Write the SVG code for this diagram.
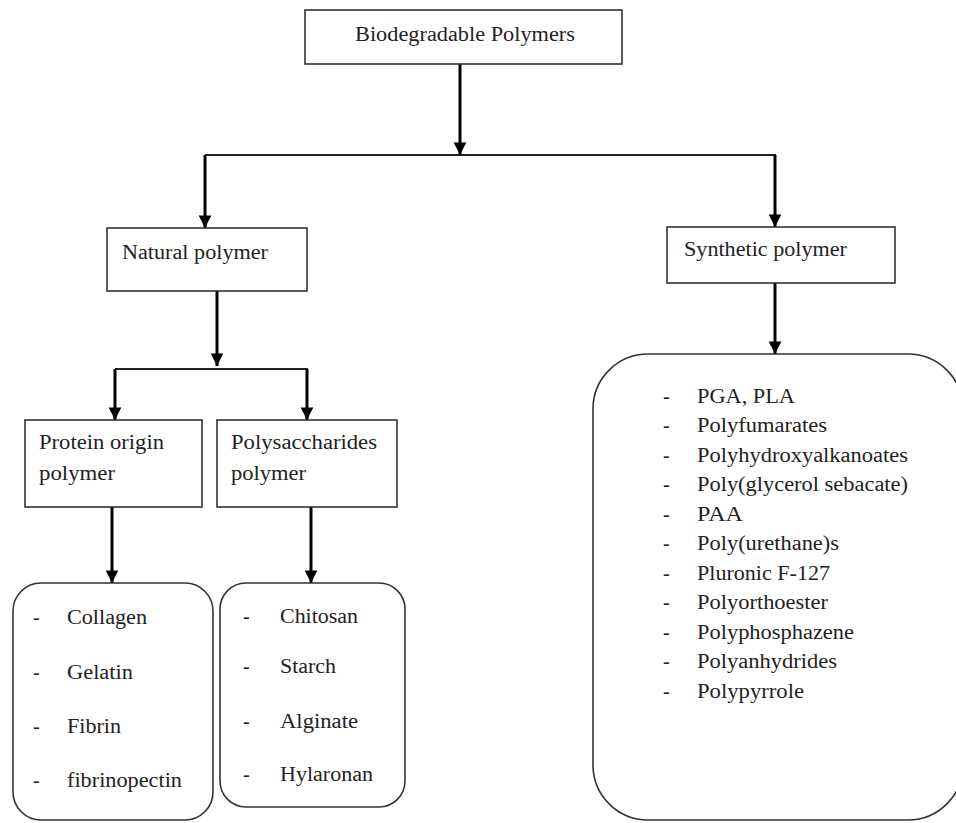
<svg xmlns="http://www.w3.org/2000/svg" width="956" height="823" viewBox="0 0 956 823">
<style>
.box{fill:#fff;stroke:#333;stroke-width:1.6}
.t{font-family:"Liberation Serif","Times New Roman",serif;font-size:20px;fill:#222}
.l{font-family:"Liberation Serif","Times New Roman",serif;font-size:20px;fill:#222}
.c{stroke:#000;stroke-width:3;fill:none}
.h{stroke:#222;stroke-width:1.8;fill:none}
</style>
<defs>
<marker id="ah" viewBox="0 0 10 10" refX="10" refY="5" markerWidth="4.2" markerHeight="4.6" orient="auto" markerUnits="strokeWidth">
<path d="M0,0 L10,5 L0,10 z" fill="#000"/>
</marker>
</defs>
<rect width="956" height="823" fill="#fff"/>
<g id="connectors">
<line class="c" x1="460" y1="64" x2="460" y2="155" marker-end="url(#ah)"/>
<line class="h" x1="205" y1="155" x2="776" y2="155"/>
<line class="c" x1="205" y1="155" x2="205" y2="228" marker-end="url(#ah)"/>
<line class="c" x1="775" y1="155" x2="775" y2="227" marker-end="url(#ah)"/>
<line class="c" x1="217" y1="291" x2="217" y2="366" marker-end="url(#ah)"/>
<line class="h" x1="115" y1="369" x2="308" y2="369"/>
<line class="c" x1="115" y1="369" x2="115" y2="420" marker-end="url(#ah)"/>
<line class="c" x1="307" y1="369" x2="307" y2="420" marker-end="url(#ah)"/>
<line class="c" x1="112" y1="507" x2="112" y2="583" marker-end="url(#ah)"/>
<line class="c" x1="311" y1="507" x2="311" y2="583" marker-end="url(#ah)"/>
<line class="c" x1="775" y1="283" x2="775" y2="354" marker-end="url(#ah)"/>
</g>
<g id="root">
<rect class="box" x="305" y="10" width="317" height="54"/>
<text class="t" x="355" y="41" textLength="220" lengthAdjust="spacingAndGlyphs">Biodegradable Polymers</text>
</g>
<g id="natural">
<rect class="box" x="107" y="228" width="200" height="63"/>
<text class="t" x="122" y="259" textLength="146" lengthAdjust="spacingAndGlyphs">Natural polymer</text>
</g>
<g id="synthetic">
<rect class="box" x="667" y="227" width="228" height="56"/>
<text class="t" x="684" y="256" textLength="163" lengthAdjust="spacingAndGlyphs">Synthetic polymer</text>
</g>
<g id="protein">
<rect class="box" x="25" y="420" width="177" height="87"/>
<text class="t" x="39" y="449" textLength="125" lengthAdjust="spacingAndGlyphs">Protein origin</text>
<text class="t" x="39" y="480" textLength="76" lengthAdjust="spacingAndGlyphs">polymer</text>
</g>
<g id="polysaccharides">
<rect class="box" x="217" y="420" width="180" height="87"/>
<text class="t" x="231" y="449" textLength="146" lengthAdjust="spacingAndGlyphs">Polysaccharides</text>
<text class="t" x="231" y="480" textLength="75" lengthAdjust="spacingAndGlyphs">polymer</text>
</g>
<g id="protein-list">
<rect class="box" x="13" y="583" width="200" height="237" rx="28" ry="28"/>
<text class="l" x="33" y="624">-</text><text class="l" x="67" y="624" textLength="80" lengthAdjust="spacingAndGlyphs">Collagen</text>
<text class="l" x="33" y="679">-</text><text class="l" x="67" y="679" textLength="66" lengthAdjust="spacingAndGlyphs">Gelatin</text>
<text class="l" x="33" y="733">-</text><text class="l" x="67" y="733" textLength="54" lengthAdjust="spacingAndGlyphs">Fibrin</text>
<text class="l" x="33" y="787">-</text><text class="l" x="67" y="787" textLength="115" lengthAdjust="spacingAndGlyphs">fibrinopectin</text>
</g>
<g id="polysaccharides-list">
<rect class="box" x="220" y="583" width="185" height="224" rx="26" ry="26"/>
<text class="l" x="243" y="623">-</text><text class="l" x="280" y="623" textLength="78" lengthAdjust="spacingAndGlyphs">Chitosan</text>
<text class="l" x="243" y="673">-</text><text class="l" x="280" y="673" textLength="56" lengthAdjust="spacingAndGlyphs">Starch</text>
<text class="l" x="243" y="728">-</text><text class="l" x="280" y="728" textLength="78" lengthAdjust="spacingAndGlyphs">Alginate</text>
<text class="l" x="243" y="781">-</text><text class="l" x="280" y="781" textLength="93" lengthAdjust="spacingAndGlyphs">Hylaronan</text>
</g>
<g id="synthetic-list">
<rect class="box" x="593" y="354" width="370" height="466" rx="55" ry="55"/>
<g class="l">
<text x="663" y="403">-</text><text x="697" y="403" textLength="98" lengthAdjust="spacingAndGlyphs">PGA, PLA</text>
<text x="663" y="432">-</text><text x="697" y="432" textLength="130" lengthAdjust="spacingAndGlyphs">Polyfumarates</text>
<text x="663" y="462">-</text><text x="697" y="462" textLength="211" lengthAdjust="spacingAndGlyphs">Polyhydroxyalkanoates</text>
<text x="663" y="491">-</text><text x="697" y="491" textLength="211" lengthAdjust="spacingAndGlyphs">Poly(glycerol sebacate)</text>
<text x="663" y="521">-</text><text x="697" y="521" textLength="46" lengthAdjust="spacingAndGlyphs">PAA</text>
<text x="663" y="550">-</text><text x="697" y="550" textLength="142" lengthAdjust="spacingAndGlyphs">Poly(urethane)s</text>
<text x="663" y="580">-</text><text x="697" y="580" textLength="133" lengthAdjust="spacingAndGlyphs">Pluronic F-127</text>
<text x="663" y="609">-</text><text x="697" y="609" textLength="131" lengthAdjust="spacingAndGlyphs">Polyorthoester</text>
<text x="663" y="639">-</text><text x="697" y="639" textLength="157" lengthAdjust="spacingAndGlyphs">Polyphosphazene</text>
<text x="663" y="668">-</text><text x="697" y="668" textLength="140" lengthAdjust="spacingAndGlyphs">Polyanhydrides</text>
<text x="663" y="698">-</text><text x="697" y="698" textLength="107" lengthAdjust="spacingAndGlyphs">Polypyrrole</text>
</g>
</g>
</svg>
